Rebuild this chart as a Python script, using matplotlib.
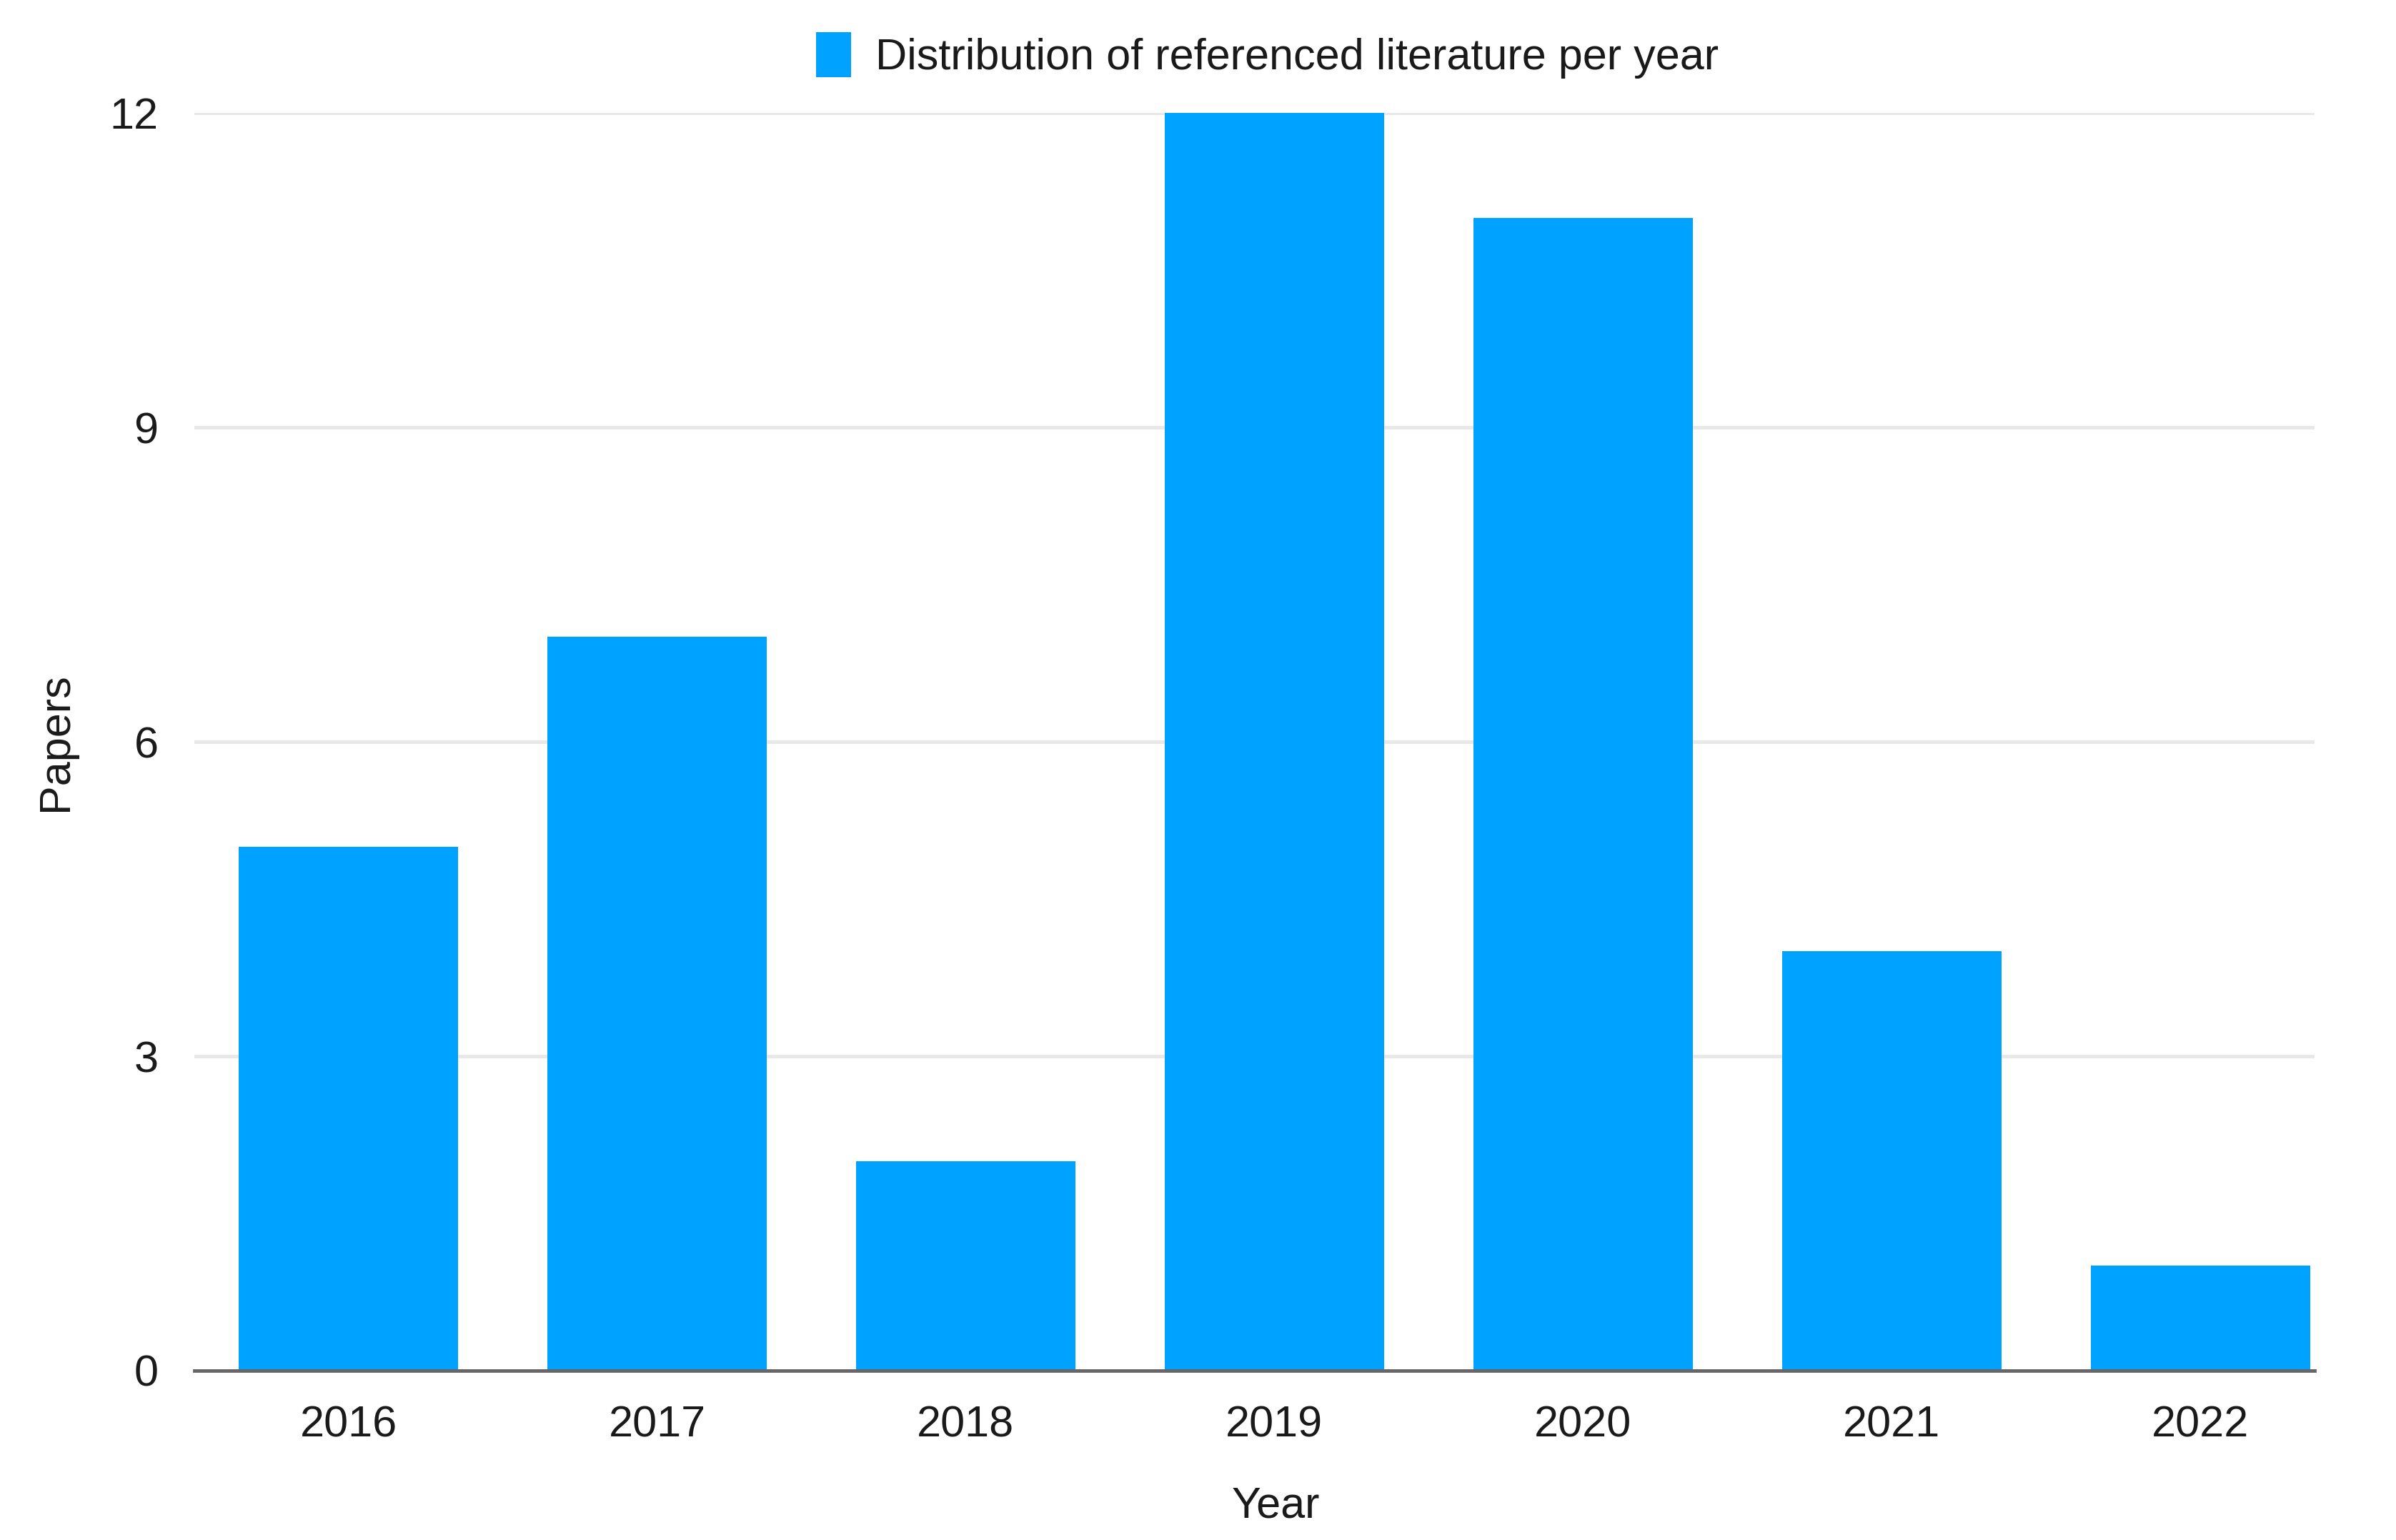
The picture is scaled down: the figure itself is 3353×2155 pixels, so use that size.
import matplotlib
matplotlib.use("Agg")
import matplotlib.pyplot as plt

# data
years = ["2016", "2017", "2018", "2019", "2020", "2021", "2022"]
papers = [5, 7, 2, 12, 11, 4, 1]
yticks = [0, 3, 6, 9, 12]
series_name = "Distribution of referenced literature per year"

plt.rcParams['font.family'] = ['Liberation Sans', 'DejaVu Sans']

fig = plt.figure(figsize=(33.53, 21.55), dpi=100)
ax = fig.add_axes([0.081, 0.110, 0.885, 0.8166])

x = list(range(len(years)))
ax.bar(x, papers, width=0.71, color="#00a2ff", label=series_name, zorder=3)

ax.set_xlim(-0.5, 6.37)
ax.set_ylim(0, 12)
ax.set_yticks(yticks)
ax.set_xticks(x)
ax.set_xticklabels(years)

# grid + baseline
ax.grid(axis="y", color="#e8e8e8", linewidth=3.5, zorder=0)
for s in ["top", "right", "left"]:
    ax.spines[s].set_visible(False)
ax.spines["bottom"].set_color("#666666")
ax.spines["bottom"].set_linewidth(3.5)
ax.spines["bottom"].set_zorder(4)

ax.tick_params(axis="both", length=0, labelsize=44, colors="#1a1a1a")
ax.tick_params(axis="y", pad=36)
ax.tick_params(axis="x", pad=35)

ax.set_xlabel("Year", fontsize=44, color="#1a1a1a", va="center")
ax.set_ylabel("Papers", fontsize=44, color="#1a1a1a", va="center")
ax.xaxis.set_label_coords(0.51, -0.108)
ax.yaxis.set_label_coords(-0.065, 0.5)

leg = ax.legend(loc="center", bbox_to_anchor=(0.529, 0.964), bbox_transform=fig.transFigure,
                frameon=False, fontsize=44, handlelength=0.8, handleheight=1.2,
                handletextpad=0.55)
for t in leg.get_texts():
    t.set_color("#1a1a1a")

fig.savefig("out.png", dpi=100)
